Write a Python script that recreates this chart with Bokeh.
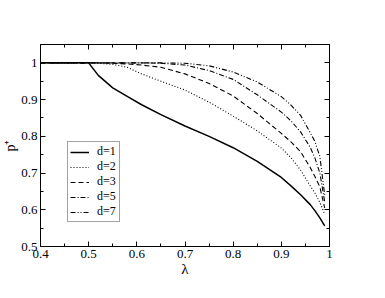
from bokeh.plotting import figure
from bokeh.models import Range1d, LinearAxis, SingleIntervalTicker, CustomJSTickFormatter, Legend
from bokeh.embed import file_html
from bokeh.resources import INLINE

lam = [0.4, 0.5, 0.52, 0.55, 0.58, 0.61, 0.65, 0.7, 0.75, 0.8, 0.85, 0.9, 0.92, 0.94, 0.96, 0.97, 0.98, 0.99]
p_d1 = [1.0, 1.0, 0.966, 0.932, 0.909, 0.886, 0.859, 0.828, 0.800, 0.769, 0.732, 0.688, 0.665, 0.641, 0.614, 0.597, 0.578, 0.556]
p_d2 = [1.0, 1.0, 0.999, 0.996, 0.988, 0.970, 0.950, 0.926, 0.893, 0.855, 0.815, 0.768, 0.742, 0.708, 0.665, 0.645, 0.620, 0.588]
p_d3 = [1.0, 1.0, 1.0, 0.999, 0.997, 0.994, 0.988, 0.970, 0.944, 0.910, 0.862, 0.808, 0.785, 0.758, 0.715, 0.690, 0.662, 0.605]
p_d5 = [1.0, 1.0, 1.0, 1.0, 1.0, 1.0, 0.999, 0.994, 0.979, 0.955, 0.913, 0.866, 0.842, 0.812, 0.770, 0.740, 0.700, 0.622]
p_d7 = [1.0, 1.0, 1.0, 1.0, 1.0, 1.0, 1.0, 0.999, 0.992, 0.975, 0.948, 0.908, 0.885, 0.857, 0.810, 0.785, 0.745, 0.641]

labels = ["d=1", "d=2", "d=3", "d=5", "d=7"]
series = [p_d1, p_d2, p_d3, p_d5, p_d7]
dashes = ["solid", "1 2", "5 3", "5 2 1 2", "5 2 1 2 1 2"]
widths = [1.5, 1.1, 1.1, 1.1, 1.1]

FONT = "Liberation Serif"

p = figure(width=369, height=282, output_backend="svg", toolbar_location=None,
           x_range=Range1d(0.4, 1.0), y_range=Range1d(0.5, 1.05),
           min_border_left=35, min_border_right=40, min_border_top=44, min_border_bottom=36)
p.xgrid.visible = False
p.ygrid.visible = False
p.outline_line_color = "black"
p.outline_line_width = 1

fmt = CustomJSTickFormatter(code="var s = tick.toFixed(1); if (s.endsWith('.0')) s = s.slice(0, -2); return s;")
blank = CustomJSTickFormatter(code="return '';")

for ax in list(p.xaxis) + list(p.yaxis):
    ax.ticker = SingleIntervalTicker(interval=0.1, num_minor_ticks=2)
    ax.formatter = fmt
    ax.major_tick_in = 5
    ax.major_tick_out = 0
    ax.minor_tick_in = 3
    ax.minor_tick_out = 0
    ax.major_label_text_font = FONT
    ax.major_label_text_font_size = "13px"
    ax.major_label_text_color = "black"
    ax.axis_line_color = "black"
    ax.major_tick_line_color = "black"
    ax.minor_tick_line_color = "black"
    ax.axis_label_text_font = FONT
    ax.axis_label_text_font_style = "normal"
    ax.axis_label_text_color = "black"

p.xaxis.axis_label = "λ"
p.xaxis.axis_label_text_font_size = "15px"
p.xaxis.axis_label_standoff = 0
p.xaxis.major_label_standoff = 3
p.yaxis.axis_label = "p⁺"
p.yaxis.axis_label_text_font_size = "14px"
p.yaxis.axis_label_standoff = 0
p.yaxis.major_label_standoff = 3

top = LinearAxis(ticker=SingleIntervalTicker(interval=0.1, num_minor_ticks=2), formatter=blank)
right = LinearAxis(ticker=SingleIntervalTicker(interval=0.1, num_minor_ticks=2), formatter=blank)
for ax in (top, right):
    ax.major_tick_in = 5
    ax.major_tick_out = 0
    ax.minor_tick_in = 3
    ax.minor_tick_out = 0
    ax.major_label_standoff = 0
    ax.axis_line_color = "black"
    ax.major_tick_line_color = "black"
    ax.minor_tick_line_color = "black"
p.add_layout(top, "above")
p.add_layout(right, "right")

items = []
for lab, ys, dsh, w in zip(labels, series, dashes, widths):
    r = p.line(lam, ys, line_color="black", line_width=w, line_dash=dsh)
    items.append((lab, [r]))

leg = Legend(items=items, location=(27, 24))
leg.border_line_color = "#444444"
leg.border_line_width = 1
leg.label_text_font = FONT
leg.label_text_font_size = "12px"
leg.label_text_color = "black"
leg.label_text_line_height = 1.0
leg.label_height = 12
leg.glyph_height = 12
leg.glyph_width = 19
leg.label_standoff = 8
leg.spacing = 0
leg.padding = 2
leg.margin = 0
leg.background_fill_color = "white"
p.add_layout(leg, "center")

open("out.html", "w").write(file_html(p, INLINE))
